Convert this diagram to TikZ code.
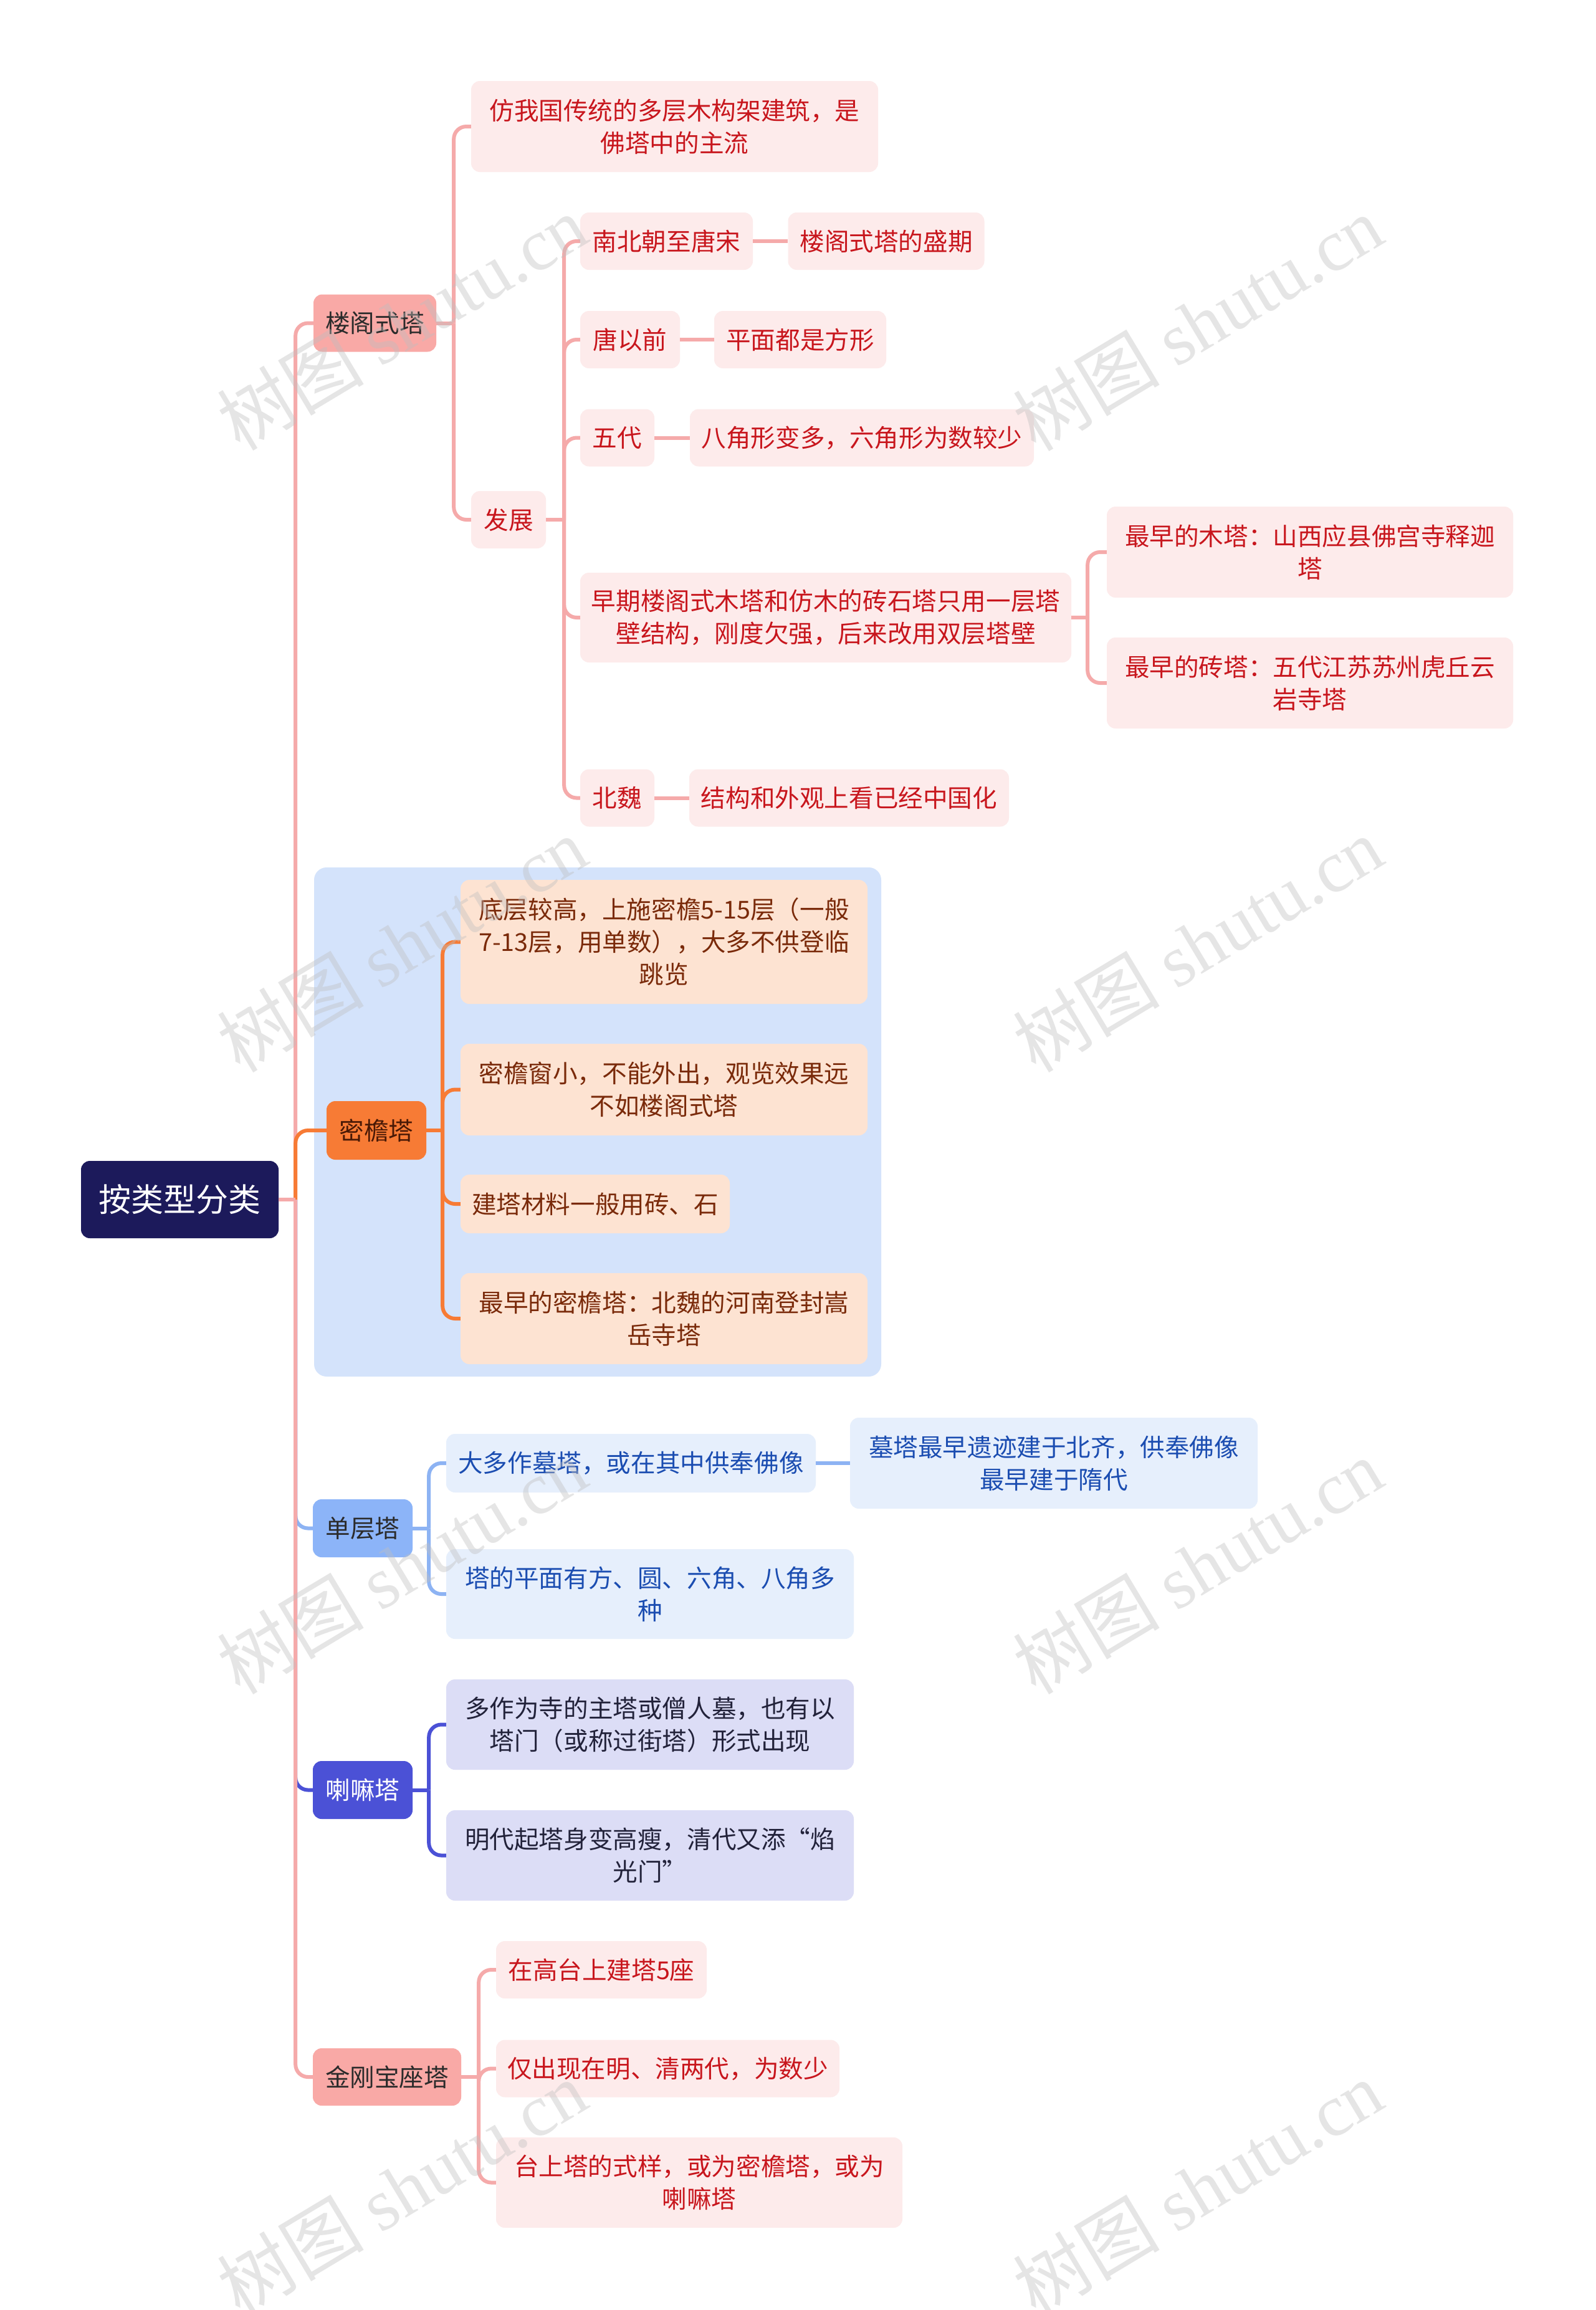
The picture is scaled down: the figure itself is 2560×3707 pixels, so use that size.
\documentclass[tikz,border=0pt]{standalone}
\usepackage{fontspec}
\setmainfont{Noto Sans CJK SC}
\newfontfamily\wmlat{Liberation Serif}
\newfontfamily\wmcjk{Noto Sans CJK SC}
\definecolor{rootc}{HTML}{1C1A5B}
\definecolor{pinkln}{HTML}{F5AAAA}
\definecolor{pinknode}{HTML}{F9A9A6}
\definecolor{pinkleaf}{HTML}{FDEBEB}
\definecolor{redtxt}{HTML}{C8161D}
\definecolor{orgln}{HTML}{F77B35}
\definecolor{peach}{HTML}{FDE3D2}
\definecolor{browntxt}{HTML}{7A2A0A}
\definecolor{panelc}{HTML}{D4E3FB}
\definecolor{bluenode}{HTML}{8CB4F8}
\definecolor{blueln}{HTML}{8DB3F3}
\definecolor{blueleaf}{HTML}{E6EFFC}
\definecolor{bluetxt}{HTML}{1B4DB1}
\definecolor{indnode}{HTML}{4B51D6}
\definecolor{indleaf}{HTML}{DCDDF6}
\definecolor{indtxt}{HTML}{22223A}
\definecolor{darktxt}{HTML}{2B2B2B}
\begin{document}
\begin{tikzpicture}[x=1pt,y=-1pt,
  every node/.style={inner sep=0pt, align=center, font=\fontsize{39.6pt}{52pt}\selectfont},
  box/.style={rounded corners=14pt, minimum height=92pt},
  rootbox/.style={fill=rootc, text=white, rounded corners=14pt, font=\fontsize{52pt}{62pt}\selectfont},
  lonepink/.style={box, fill=pinknode, text=darktxt},
  leafpink/.style={box, fill=pinkleaf, text=redtxt},
  loneorg/.style={box, fill=orgln, text=browntxt!60!black},
  leaforg/.style={box, fill=peach, text=browntxt},
  loneblue/.style={box, fill=bluenode, text=darktxt},
  leafblue/.style={box, fill=blueleaf, text=bluetxt},
  loneind/.style={box, fill=indnode, text=white},
  leafind/.style={box, fill=indleaf, text=indtxt},
  conn/.style={line width=6pt, rounded corners=20pt},
  cpink/.style={conn, draw=pinkln},
  corg/.style={conn, draw=orgln},
  cblue/.style={conn, draw=blueln},
  cind/.style={conn, draw=indnode},
  wm/.style={rotate=31, text=gray!50, opacity=0.4, font=\fontsize{118pt}{124pt}\selectfont}
]
\useasboundingbox (0,0) rectangle (2560,3707);
\fill[white] (0,0) rectangle (2560,3707);

% panel behind the second branch
\fill[panelc, rounded corners=20pt] (504,1392) rectangle (1414,2209);

% root
\node[rootbox, minimum width=317pt, minimum height=124pt] (root) at (288.5,1925) {按类型分类};

% level 1
\node[lonepink, minimum width=197pt, minimum height=92pt] (lg) at (601.5,518.5) {楼阁式塔};
\node[loneorg, minimum width=160pt, minimum height=94pt] (my) at (604,1814) {密檐塔};
\node[loneblue, minimum width=160pt, minimum height=93pt] (dc) at (582,2452.5) {单层塔};
\node[loneind, minimum width=160pt, minimum height=93pt] (lm) at (582,2872.5) {喇嘛塔};
\node[lonepink, minimum width=238pt, minimum height=92pt] (jg) at (621,3333) {金刚宝座塔};

% branch 1
\node[leafpink, minimum width=653pt, minimum height=146pt] (a1) at (1082.5,203) {仿我国传统的多层木构架建筑，是\\佛塔中的主流};
\node[leafpink, minimum width=120pt] (a2) at (816,834) {发展};
\node[leafpink, minimum width=277pt] (b1) at (1069.5,387) {南北朝至唐宋};
\node[leafpink, minimum width=315pt] (b1r) at (1422,387) {楼阁式塔的盛期};
\node[leafpink, minimum width=160pt] (b2) at (1011,545) {唐以前};
\node[leafpink, minimum width=276pt] (b2r) at (1284,545) {平面都是方形};
\node[leafpink, minimum width=119pt] (b3) at (990.5,702.5) {五代};
\node[leafpink, minimum width=552pt] (b3r) at (1383,702.5) {八角形变多，六角形为数较少};
\node[leafpink, minimum width=788pt, minimum height=144pt] (b4) at (1325,991) {早期楼阁式木塔和仿木的砖石塔只用一层塔\\壁结构，刚度欠强，后来改用双层塔壁};
\node[leafpink, minimum width=652pt, minimum height=146pt] (c1) at (2102,886) {最早的木塔：山西应县佛宫寺释迦\\塔};
\node[leafpink, minimum width=652pt, minimum height=146pt] (c2) at (2102,1096) {最早的砖塔：五代江苏苏州虎丘云\\岩寺塔};
\node[leafpink, minimum width=119pt] (b5) at (990.5,1280.5) {北魏};
\node[leafpink, minimum width=513pt] (b5r) at (1362.5,1280.5) {结构和外观上看已经中国化};

% branch 2
\node[leaforg, minimum width=653pt, minimum height=199pt] (d1) at (1065.5,1511.5) {底层较高，上施密檐5-15层（一般\\7-13层，用单数），大多不供登临\\跳览};
\node[leaforg, minimum width=653pt, minimum height=147pt] (d2) at (1065.5,1748.5) {密檐窗小，不能外出，观览效果远\\不如楼阁式塔};
\node[leaforg, minimum width=432pt, minimum height=94pt] (d3) at (955,1932) {建塔材料一般用砖、石};
\node[leaforg, minimum width=653pt, minimum height=146pt] (d4) at (1065.5,2116) {最早的密檐塔：北魏的河南登封嵩\\岳寺塔};

% branch 3
\node[leafblue, minimum width=593pt, minimum height=94pt] (e1) at (1012.5,2348) {大多作墓塔，或在其中供奉佛像};
\node[leafblue, minimum width=654pt, minimum height=146pt] (e1r) at (1691,2348) {墓塔最早遗迹建于北齐，供奉佛像\\最早建于隋代};
\node[leafblue, minimum width=654pt, minimum height=144pt] (e2) at (1043,2558) {塔的平面有方、圆、六角、八角多\\种};

% branch 4
\node[leafind, minimum width=654pt, minimum height=145pt] (f1) at (1043,2767.5) {多作为寺的主塔或僧人墓，也有以\\塔门（或称过街塔）形式出现};
\node[leafind, minimum width=654pt, minimum height=145pt] (f2) at (1043,2977.5) {明代起塔身变高瘦，清代又添“焰\\光门”};

% branch 5
\node[leafpink, minimum width=338pt] (g1) at (965,3161) {在高台上建塔5座};
\node[leafpink, minimum width=551pt] (g2) at (1071.5,3319.5) {仅出现在明、清两代，为数少};
\node[leafpink, minimum width=652pt, minimum height=145pt] (g3) at (1122,3502.5) {台上塔的式样，或为密檐塔，或为\\喇嘛塔};

% spine coordinates
\path (root.east) ++(27,0) coordinate (s0);
\path (lg.east) ++(28,0) coordinate (s1);
\path (a2.east) ++(29,0) coordinate (s2);
\path (b4.east) ++(26,0) coordinate (s3);
\path (my.east) ++(26,0) coordinate (s4);
\path (dc.east) ++(26,0) coordinate (s5);
\path (lm.east) ++(26,0) coordinate (s6);
\path (jg.east) ++(28,0) coordinate (s7);

% root connectors
\draw[cpink] (s0) |- (lg.west);
\draw[corg] (s0) |- (my.west);
\draw[cblue] (s0) |- (dc.west);
\draw[cind] (s0) |- (lm.west);
\draw[cpink] (s0) |- (jg.west);
\draw[cpink] (root.east) -- (s0);

% branch 1 connectors
\draw[cpink] (lg.east) -- (s1);
\draw[cpink] (s1) |- (a1.west);
\draw[cpink] (s1) |- (a2.west);
\draw[cpink] (a2.east) -- (s2);
\draw[cpink] (s2) |- (b1.west);
\draw[cpink] (s2) |- (b2.west);
\draw[cpink] (s2) |- (b3.west);
\draw[cpink] (s2) |- (b4.west);
\draw[cpink] (s2) |- (b5.west);
\draw[cpink] (b1.east) -- (b1r.west);
\draw[cpink] (b2.east) -- (b2r.west);
\draw[cpink] (b3.east) -- (b3r.west);
\draw[cpink] (b5.east) -- (b5r.west);
\draw[cpink] (b4.east) -- (s3);
\draw[cpink] (s3) |- (c1.west);
\draw[cpink] (s3) |- (c2.west);

% branch 2 connectors
\draw[corg] (my.east) -- (s4);
\draw[corg] (s4) |- (d1.west);
\draw[corg] (s4) |- (d2.west);
\draw[corg] (s4) |- (d3.west);
\draw[corg] (s4) |- (d4.west);

% branch 3 connectors
\draw[cblue] (dc.east) -- (s5);
\draw[cblue] (s5) |- (e1.west);
\draw[cblue] (s5) |- (e2.west);
\draw[cblue] (e1.east) -- (e1r.west);

% branch 4 connectors
\draw[cind] (lm.east) -- (s6);
\draw[cind] (s6) |- (f1.west);
\draw[cind] (s6) |- (f2.west);

% branch 5 connectors
\draw[cpink] (jg.east) -- (s7);
\draw[cpink] (s7) |- (g1.west);
\draw[cpink] (s7) |- (g2.west);
\draw[cpink] (s7) |- (g3.west);

% watermarks
\foreach \wx/\wy [count=\i] in {645/517, 1922/518, 645/1515, 1922/1515, 645/2513, 1922/2513, 645/3511, 1922/3511}{
  \node[wm] (wm\i) at (\wx,\wy) {{\wmcjk 树图} {\wmlat shutu.cn}};
}
\end{tikzpicture}
\end{document}
